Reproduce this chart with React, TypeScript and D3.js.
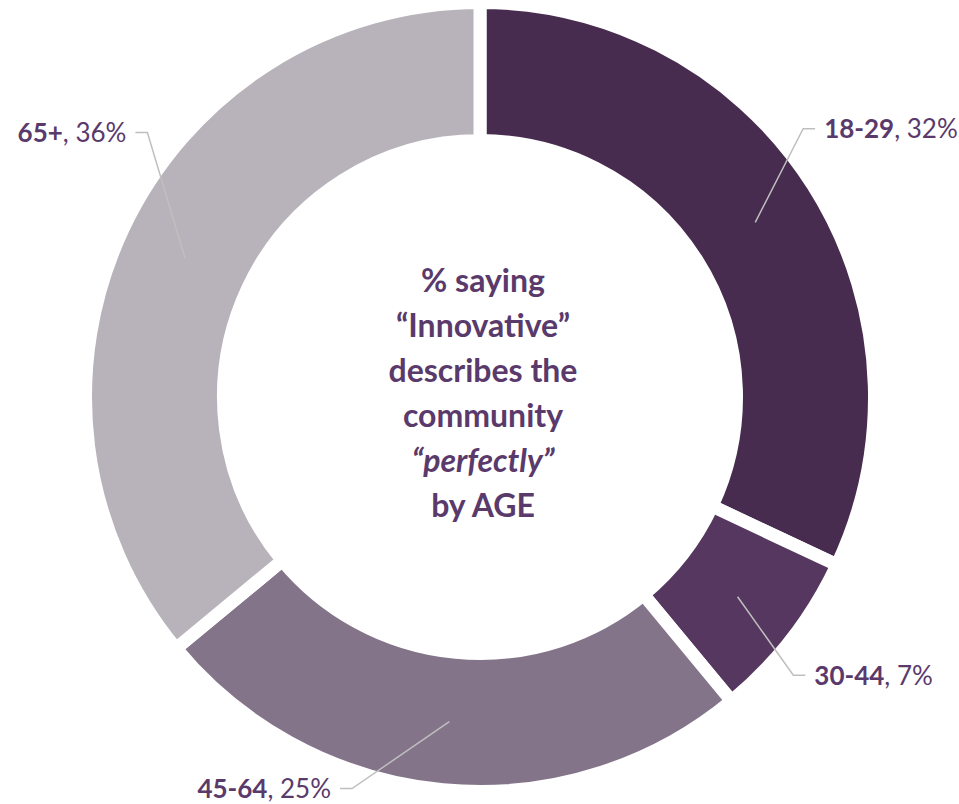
import React from "react";
import * as d3 from "d3";

const categories = ["18-29", "30-44", "45-64", "65+"];
const values = [32, 7, 25, 36];
const colors = ["#472C4F", "#55375F", "#837489", "#B8B3BA"];
const titleLines = ["% saying", "“Innovative”", "describes the", "community", "“perfectly”", "by AGE"];
const titleItalic = [false, false, false, false, true, false];

// label layout: elbow point (angle deg clockwise from top, radius), side of text
const labelLayout = [
  { angle: 50.3, r: 420, side: 1 },
  { angle: 131.6, r: 419, side: 1 },
  { angle: 198.1, r: 412, side: -1 },
  { angle: 308.5, r: 425, side: -1 },
];

const W = 959;
const H = 804;
const cx = 480;
const cy = 397;
const outerR = 388;
const innerR = 263;
const gap = 13;
const textColor = "#5A3A6B";
const font = "Lato, 'Open Sans', sans-serif";

export default function App() {
  const pie = d3.pie<number>().sort(null).value((d) => d);
  const arcs = pie(values);
  const arcGen = d3
    .arc<d3.PieArcDatum<number>>()
    .innerRadius(innerR - gap / 2)
    .outerRadius(outerR + gap / 2);
  const midR = (outerR + innerR) / 2 + 0.5;

  return (
    <svg width={W} height={H} style={{ position: "absolute", left: 0, top: 0 }}>
      <g transform={`translate(${cx},${cy})`}>
        {arcs.map((a, i) => (
          <path key={i} d={arcGen(a) || ""} fill={colors[i]} stroke="#fff" strokeWidth={gap} strokeLinejoin="miter" />
        ))}
        {arcs.map((a, i) => {
          const mid = (a.startAngle + a.endAngle) / 2;
          const ax = Math.sin(mid) * midR;
          const ay = -Math.cos(mid) * midR;
          const L = labelLayout[i];
          const ang = (L.angle * Math.PI) / 180;
          const ex = Math.sin(ang) * L.r;
          const ey = -Math.cos(ang) * L.r;
          const hx = ex + L.side * 12;
          const tx = hx + L.side * 9;
          return (
            <g key={"l" + i}>
              <polyline
                points={`${ax},${ay} ${ex},${ey} ${hx},${ey}`}
                fill="none"
                stroke="#BFBFBF"
                strokeWidth={1.5}
              />
              <text
                x={tx}
                y={ey}
                dy="0.36em"
                textAnchor={L.side > 0 ? "start" : "end"}
                fontFamily={font}
                fontSize={26}
                fill={textColor}
              >
                <tspan fontWeight="bold">{categories[i]}</tspan>
                <tspan>{`, ${values[i]}%`}</tspan>
              </text>
            </g>
          );
        })}
        <text textAnchor="middle" fontFamily={font} fontSize={32} fontWeight="bold" fill={textColor}>
          {titleLines.map((t, i) => (
            <tspan key={i} x={3} y={-105 + i * 45} fontStyle={titleItalic[i] ? "italic" : "normal"}>
              {t}
            </tspan>
          ))}
        </text>
      </g>
    </svg>
  );
}
